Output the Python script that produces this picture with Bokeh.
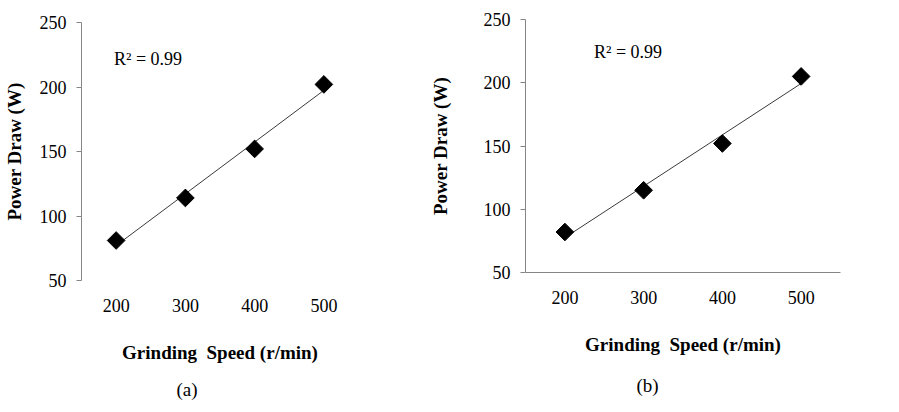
import numpy as np
from bokeh.plotting import figure
from bokeh.layouts import row
from bokeh.models import Label, FixedTicker, Range1d, Title
from bokeh.embed import file_html
from bokeh.resources import INLINE

# Measured power draw at each grinding speed, two test series
speed = [200, 300, 400, 500]
power_a = [81, 114, 152, 202]
power_b = [82, 115, 152, 205]
x_ticks = [200, 300, 400, 500]
y_ticks = [50, 100, 150, 200, 250]
r2_text = "R² = 0.99"
x_title = "Grinding\u00a0 Speed (r/min)"
y_title = "Power Draw (W)"

SERIF = "Liberation Serif"
AXIS_GRAY = "#868686"


def make_panel(power, caption, width, left, right, top, bottom,
               r2_xy, caption_offset, caption_gap, show_x_line, y_title_gap):
    p = figure(width=width, height=412, output_backend="svg",
               toolbar_location=None, frame_align=False,
               x_range=Range1d(150, 550), y_range=Range1d(50, 250),
               min_border_left=left, min_border_right=right,
               min_border_top=top, min_border_bottom=bottom)
    p.outline_line_color = None
    p.xgrid.visible = False
    p.ygrid.visible = False
    p.background_fill_color = "white"
    p.border_fill_color = "white"

    # y axis: gray line, short outward ticks
    ya = p.yaxis[0]
    ya.ticker = FixedTicker(ticks=y_ticks)
    ya.axis_line_color = AXIS_GRAY
    ya.major_tick_line_color = AXIS_GRAY
    ya.major_tick_out = 5
    ya.major_tick_in = 0
    ya.minor_tick_line_color = None
    ya.major_label_standoff = 10
    ya.major_label_text_font = SERIF
    ya.major_label_text_font_size = "18px"
    ya.major_label_text_color = "black"
    ya.axis_label = y_title
    ya.axis_label_text_font = SERIF
    ya.axis_label_text_font_style = "bold"
    ya.axis_label_text_font_size = "19px"
    ya.axis_label_text_color = "black"
    ya.axis_label_standoff = y_title_gap

    # x axis: category-style labels, no ticks
    xa = p.xaxis[0]
    xa.ticker = FixedTicker(ticks=x_ticks)
    xa.axis_line_color = AXIS_GRAY if show_x_line else None
    xa.major_tick_line_color = None
    xa.minor_tick_line_color = None
    xa.major_label_standoff = 12
    xa.major_label_text_font = SERIF
    xa.major_label_text_font_size = "18px"
    xa.major_label_text_color = "black"
    xa.axis_label = x_title
    xa.axis_label_text_font = SERIF
    xa.axis_label_text_font_style = "bold"
    xa.axis_label_text_font_size = "19px"
    xa.axis_label_text_color = "black"
    xa.axis_label_standoff = 27

    # linear trend line over the measured span
    coef = np.polyfit(speed, power, 1)
    tx = [speed[0], speed[-1]]
    p.line(tx, list(np.polyval(coef, tx)), line_color="#3a3a3a", line_width=1)

    p.scatter(speed, power, marker="square", angle=np.pi / 4, size=12.5,
              fill_color="black", line_color="black")

    p.add_layout(Label(x=r2_xy[0], y=r2_xy[1], text=r2_text,
                       text_font=SERIF, text_font_size="18px",
                       text_align="left", text_baseline="middle",
                       text_color="black"))
    # panel caption beneath the axis title
    p.add_layout(Title(text=caption, align="left", offset=caption_offset,
                       standoff=caption_gap, text_font=SERIF,
                       text_font_size="19px", text_font_style="normal",
                       text_color="black"),
                 "below")
    return p


pa = make_panel(power_a, "(a)", 420, 77, 62, 22, 132,
                (197, 222), 95, 22, show_x_line=False, y_title_gap=12)
pb = make_panel(power_b, "(b)", 479, 105, 59, 19, 140,
                (237, 224), 111, 30, show_x_line=True, y_title_gap=30)

layout = row(pa, pb)
open("out.html", "w").write(file_html(layout, INLINE))
